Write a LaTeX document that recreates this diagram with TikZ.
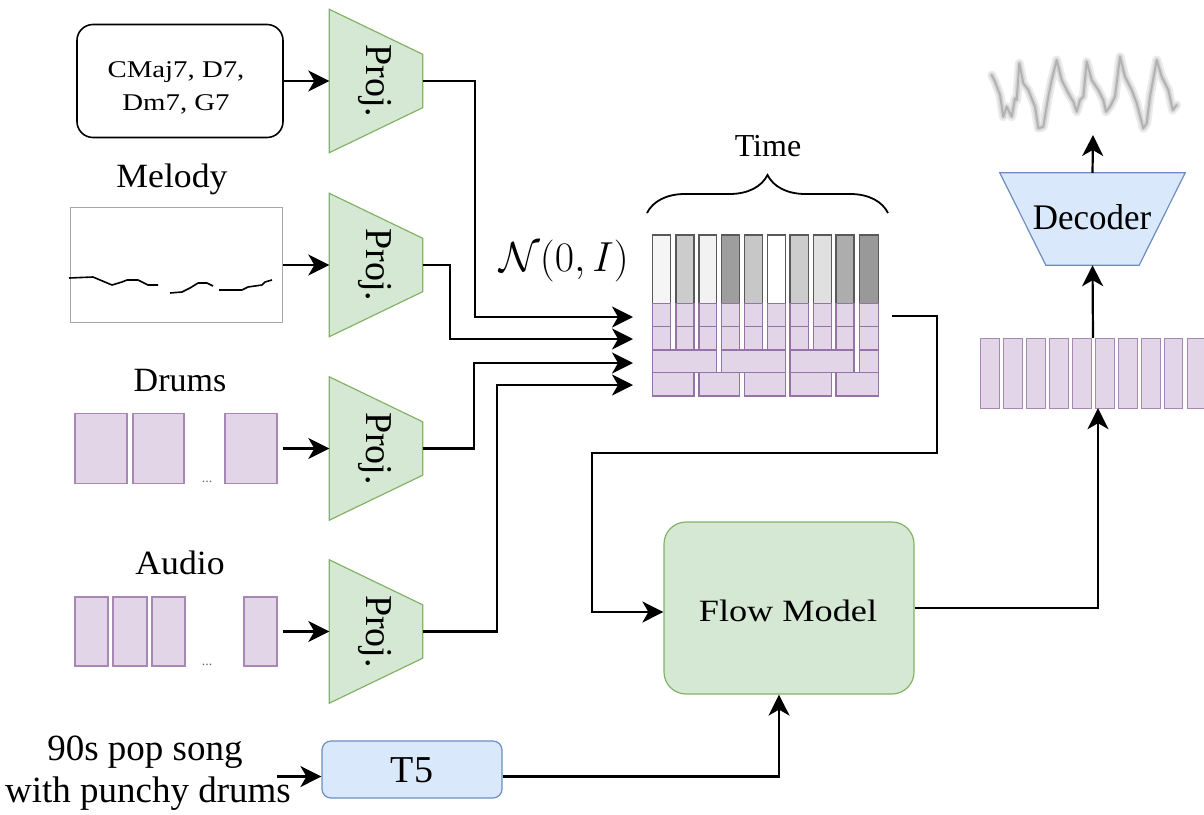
\RequirePackage{fix-cm}
\documentclass[tikz,border=0pt]{standalone}
\usepackage[no-math]{fontspec}
\setmainfont{Liberation Serif}
\newfontfamily\tms{Liberation Serif}
\usepackage{graphicx}
\usetikzlibrary{arrows.meta,decorations.pathreplacing,calc}

\definecolor{gfill}{HTML}{D5E8D4}
\definecolor{gline}{HTML}{82B366}
\definecolor{bfill}{HTML}{DAE8FC}
\definecolor{bline}{HTML}{6C8EBF}
\definecolor{pfill}{HTML}{E1D5E7}
\definecolor{pline}{HTML}{9673A6}
\newcommand{\hs}[2]{\scalebox{#1}[1]{#2}}
\newcommand{\fs}[1]{\tms\fontsize{#1}{1.2\dimexpr#1pt\relax}\selectfont}

\tikzset{
  arr/.style={line width=2.2pt, -{Stealth[length=21pt,width=21pt,inset=6pt]}},
  projbox/.style={minimum width=93pt, minimum height=143pt, inner sep=0pt},
  projshape/.style={fill=gfill, draw=gline, line width=1.2pt},
  projtext/.style={rotate=-90, font=\fs{38}, inner sep=0pt},
  pcell/.style={fill=pfill, draw=pline, line width=1.2pt},
  gcell/.style={draw=black!65, line width=1.2pt},
  inbox/.style={fill=pfill, draw=pline!85, line width=1.2pt, inner sep=0pt},
  lab/.style={font=\fs{34}, inner sep=0pt, anchor=base},
  dots/.style={font=\fs{14}, text=black!60, inner sep=0pt},
}

\begin{document}
\begin{tikzpicture}[x=1pt, y=-1pt]
\path[use as bounding box] (0,0) rectangle (1204,814);

% ---------- inputs ----------
\node[draw=black, line width=1.6pt, rounded corners=16pt, minimum width=206pt, minimum height=113pt, inner sep=0pt] (chords) at (180,81) {};
\node[font=\tms\fontsize{24}{33}\selectfont, inner sep=0pt] (chordtxt) at (176,87) {\hs{1.2}{\begin{tabular}{@{}c@{}}CMaj7, D7,\\Dm7, G7\end{tabular}}};

\node[lab] (mellab) at (172,187) {\hs{1.05}{Melody}};
\node[draw=black!35, line width=1pt, minimum width=212pt, minimum height=115pt, inner sep=0pt] (mel) at (176,265) {};
\draw[line width=1.6pt, line join=round]
  (69,278) -- (93,277) -- (112,285) -- (122,282) -- (127,280) -- (138,280) -- (148,285) -- (158,285);
\draw[line width=1.6pt, line join=round]
  (170,293) -- (182,292) -- (190,288) -- (198,283) -- (207,283) -- (213,286);
\draw[line width=1.6pt, line join=round]
  (219,290) -- (242,290) -- (248,287) -- (262,285) -- (265,282) -- (272,280);

\node[lab] (drumlab) at (180,391) {Drums};
\node[inbox, minimum width=52pt, minimum height=70pt] (d1) at (101,448.5) {};
\node[inbox, minimum width=51pt, minimum height=70pt] (d2) at (158.5,448.5) {};
\node[inbox, minimum width=52pt, minimum height=70pt] (d3) at (251,448.5) {};
\node[dots] (ddots) at (207,482) {...};

\node[lab] (audlab) at (180,574) {\hs{1.05}{Audio}};
\node[inbox, minimum width=33pt, minimum height=69pt] (a1) at (91.5,631.5) {};
\node[inbox, minimum width=34pt, minimum height=69pt] (a2) at (130,631.5) {};
\node[inbox, minimum width=33pt, minimum height=69pt] (a3) at (168.5,631.5) {};
\node[inbox, minimum width=33pt, minimum height=69pt] (a4) at (260.5,631.5) {};
\node[dots] (adots) at (207,665) {...};

% ---------- projections ----------
\foreach \n/\y in {p1/81, p2/265, p3/448.5, p4/631.5}{
  \node[projbox] (\n) at (376,\y) {};
  \draw[projshape] (\n.north west) -- (\n.south west) -- ([yshift=45pt]\n.south east) -- ([yshift=-45pt]\n.north east) -- cycle;
  \node[projtext] (\n t) at (375,\y) {Proj.};
}

\draw[arr] (chords.east) -- (p1.west);
\draw[arr] (mel.east) -- (p2.west);
\draw[arr] ([xshift=5pt]d3.east) -- (p3.west);
\draw[arr] ([xshift=5pt]a4.east) -- (p4.west);

% ---------- latent grid ----------
\foreach \l/\r/\c in {652.3/670.7/black!4, 676/694/black!20, 699/716.7/black!5, 721.7/739.3/black!38, 744.3/762.7/black!22, 767.7/785.7/white, 790/808.3/black!20, 813.3/831.7/black!12, 836/854/black!32, 859.3/878.3/black!40}{
  \draw[gcell, fill=\c] (\l,235) rectangle (\r,303.3);
  \draw[pcell] (\l,303.3) rectangle (\r,326.7);
  \draw[pcell] (\l,326.7) rectangle (\r,350);
}
\foreach \l/\r in {652.3/716.7, 721.7/785.7, 790/854, 859.3/878.3}{
  \draw[pcell] (\l,350) rectangle (\r,372.7);
}
\foreach \l/\r in {652.3/694, 699/739.3, 744.3/785.7, 790/831.7, 836/878.3}{
  \draw[pcell] (\l,372.7) rectangle (\r,396);
}
\node[minimum width=226pt, minimum height=161pt, inner sep=0pt] (grid) at (765.3,315.5) {};

\draw[line width=1.8pt, decorate, decoration={brace, amplitude=38pt}] (647,213) -- (888,213);
\node[font=\fs{32}, inner sep=0pt, anchor=base] (timelab) at (768,156) {Time};
\node[font=\fontsize{42}{48}\selectfont, inner sep=0pt] (noise) at (564,261) {$\mathcal{N}(0,I)$};

\coordinate (in1) at (633,317);
\coordinate (in2) at (633,339);
\coordinate (in3) at (633,363);
\coordinate (in4) at (633,385);
\draw[arr] (p1.east) -| ([xshift=-158pt]in1) -- (in1);
\draw[arr] (p2.east) -| ([xshift=-183pt]in2) -- (in2);
\draw[arr] (p3.east) -| ([xshift=-159pt]in3) -- (in3);
\draw[arr] (p4.east) -| ([xshift=-136pt]in4) -- (in4);

% ---------- flow model ----------
\node[fill=gfill, draw=gline, line width=1.2pt, rounded corners=22pt, minimum width=250pt, minimum height=172pt, inner sep=0pt] (flow) at (789,608) {};
\node[font=\fs{31}, inner sep=0pt] (flowtxt) at (788,611) {\hs{1.17}{Flow Model}};

\coordinate (gout) at (892,316);
\coordinate (b1) at (937,453);
\coordinate (b2) at (592,612);
\draw[arr] (gout) -| (b1) -| (b2) -- ([yshift=-4pt]flow.west);

% ---------- text prompt ----------
\node[font=\fs{37}, inner sep=0pt, anchor=base] (pr1) at (145,760) {90s pop song};
\node[font=\fs{37}, inner sep=0pt, anchor=base] (pr2) at (148,802) {with punchy drums};
\coordinate (prout) at (277,776.5);
\node[fill=bfill, draw=bline, line width=1.2pt, rounded corners=9pt, minimum width=180pt, minimum height=57pt, inner sep=0pt] (t5) at (412,769.5) {};
\node[font=\fs{38}, inner sep=0pt] (t5txt) at (412,770) {T5};
\draw[arr] (prout) -- ([yshift=-7pt]t5.west);
\draw[arr] ([yshift=-7pt]t5.east) -| ([xshift=-10pt]flow.south);

% ---------- latent bar & decoder ----------
\begin{scope}
\clip (0,0) rectangle (1204,814);
\foreach \i/\l in {1/980, 2/1003, 3/1026, 4/1049, 5/1072, 6/1095, 7/1118, 8/1141, 9/1163.5, 10/1187}{
  \node[inbox, minimum width=18.5pt, minimum height=70pt, anchor=north west] (l\i) at (\l,338) {};
}
\end{scope}
\node[minimum width=226pt, minimum height=70pt, inner sep=0pt] (lat) at (1093,373) {};
\draw[arr] (flow.east) -| ([xshift=5pt]lat.south);

\node[minimum width=185pt, minimum height=92pt, inner sep=0pt] (dec) at (1092.5,219) {};
\draw[fill=bfill, draw=bline, line width=1.2pt] (dec.north west) -- (dec.north east) -- ([xshift=-46pt]dec.south east) -- ([xshift=46pt]dec.south west) -- cycle;
\node[font=\fs{36}, inner sep=0pt] (dectxt) at (1092,217) {\hs{0.97}{Decoder}};
\draw[arr] (lat.north) -- (dec.south);

\coordinate (wave) at (1093,135);
\draw[arr] (dec.north) -- (wave);

\def\wavepts{(991.7,75) (995,81.7) (1000,95) (1003.3,116.7) (1006.7,106.7) (1011.7,116.7) (1015,98.3) (1016.7,100) (1019.3,63.3) (1023.3,83.3) (1028.3,90) (1035,106.7) (1038.3,128.3) (1043.3,126.7) (1048.3,96.7) (1051.7,80) (1056.7,60) (1061.7,80) (1068.3,93.3) (1073.3,101.7) (1076.7,111.7) (1080,100) (1083.3,96.7) (1086.7,61.7) (1091.7,80) (1098.3,90) (1103.3,100) (1106,111.7) (1110,106.7) (1115,96.7) (1120,56.7) (1125,76.7) (1131.7,90) (1136.7,103.3) (1143.3,128.3) (1146.7,123.3) (1150,96.7) (1156.7,60) (1161.7,76.7) (1168.3,90) (1172.7,110) (1176.7,105)}
\draw[black!8, line width=9pt, line join=round, line cap=round] plot coordinates {\wavepts};
\draw[black!16, line width=5pt, line join=round, line cap=round] plot coordinates {\wavepts};
\draw[black!30, line width=2pt, line join=round, line cap=round] plot coordinates {\wavepts};
\end{tikzpicture}
\end{document}
